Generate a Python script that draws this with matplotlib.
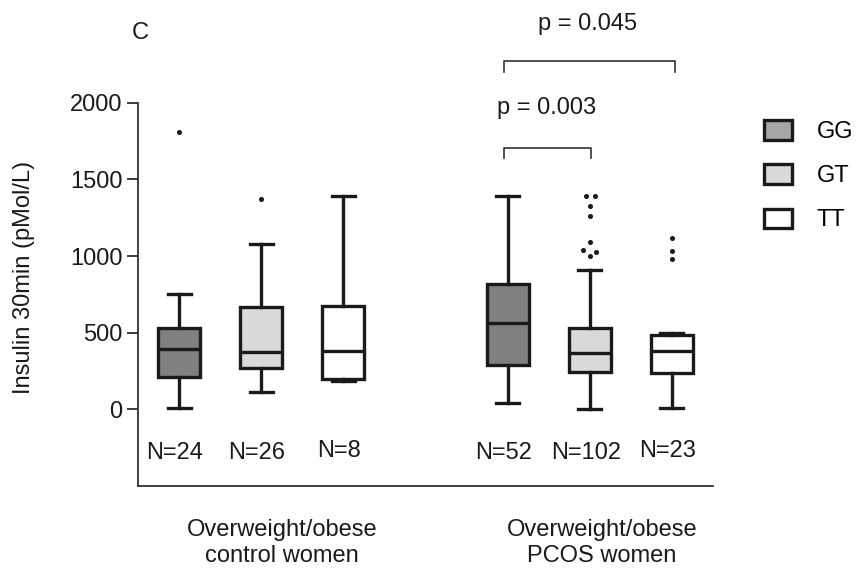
import numpy as np
import matplotlib
matplotlib.use('Agg')
import matplotlib.pyplot as plt
from matplotlib.patches import Patch

plt.rcParams['font.family'] = ['Liberation Sans', 'DejaVu Sans']

# box summaries (pMol/L)
genotypes = ['GG', 'GT', 'TT']
positions = [1, 2, 3, 5, 6, 7]
whislo = [11, 113, 182, 44, 4, 11]
q1 = [210, 271, 200, 288, 243, 239]
med = [395, 373, 380, 564, 369, 380]
q3 = [532, 666, 677, 820, 532, 482]
whishi = [755, 1078, 1389, 1389, 911, 500]
fliers = [[1808], [1372], [],
          [], [1389, 1389, 1328, 1259, 1089, 1042, 1027, 1003],
          [1118, 1031, 983]]
n_labels = ['N=24', 'N=26', 'N=8', 'N=52', 'N=102', 'N=23']
groups = ['Overweight/obese\ncontrol women', 'Overweight/obese\nPCOS women']
box_colors = ['#808080', '#d9d9d9', '#ffffff']
legend_colors = ['#a6a6a6', '#d9d9d9', '#ffffff']

FS = 17
fig = plt.figure(figsize=(8.58, 5.73), dpi=100)
ax = fig.add_axes([0.1608, 0.1518, 0.6702, 0.669])

stats = []
for i in range(len(positions)):
    stats.append({'whislo': whislo[i], 'q1': q1[i], 'med': med[i], 'q3': q3[i],
                  'whishi': whishi[i], 'fliers': fliers[i]})

bp = ax.bxp(stats, positions=positions, widths=0.51, patch_artist=True,
            showfliers=False,
            boxprops=dict(linewidth=2.4, edgecolor='#1a1a1a'),
            medianprops=dict(linewidth=2.4, color='#1a1a1a'),
            whiskerprops=dict(linewidth=2.4, color='#1a1a1a'),
            capprops=dict(linewidth=2.4, color='#1a1a1a'),
            capwidths=0.28)
for i, b in enumerate(bp['boxes']):
    b.set_facecolor(box_colors[i % 3])

# outlier dots, GT PCOS has a few side by side
flier_x = [[1], [2], [], [], [5.96, 6.06, 6.0, 6.0, 6.0, 5.92, 6.07, 6.0], [7, 7, 7]]
for i in range(len(positions)):
    if fliers[i]:
        ax.plot(flier_x[i], fliers[i], 'o', color='#1a1a1a', markersize=2.6,
                linestyle='none')

for p, lab in zip(positions, n_labels):
    yy = -270 if lab in ('N=8', 'N=23') else -285
    ax.text(p - 0.05, yy, lab, ha='center', va='center', fontsize=FS, color='#1a1a1a')

ax.text(2.25, -872, groups[0], ha='center', va='center', fontsize=FS,
        color='#1a1a1a', linespacing=1.2, clip_on=False)
ax.text(6.15, -872, groups[1], ha='center', va='center', fontsize=FS,
        color='#1a1a1a', linespacing=1.2, clip_on=False)

# significance brackets
ax.plot([4.95, 4.95, 6.01, 6.01], [1638, 1707, 1707, 1638], color='#333333',
        linewidth=1.2, clip_on=False)
ax.text(5.48, 1965, 'p = 0.003', ha='center', va='center', fontsize=FS, color='#1a1a1a')
ax.plot([4.95, 4.95, 7.04, 7.04], [2201, 2273, 2273, 2201], color='#333333',
        linewidth=1.2, clip_on=False)
ax.text(5.97, 2516, 'p = 0.045', ha='center', va='center', fontsize=FS,
        color='#1a1a1a', clip_on=False)

ax.set_xlim(0.5, 7.5)
ax.set_ylim(-500, 2000)
ax.set_yticks([0, 500, 1000, 1500, 2000])
ax.set_xticks([])
ax.tick_params(axis='y', direction='out', length=8, width=1.2, pad=3,
               labelsize=FS, colors='#1a1a1a')
for s in ['top', 'right']:
    ax.spines[s].set_visible(False)
for s in ['left', 'bottom']:
    ax.spines[s].set_linewidth(1.3)
    ax.spines[s].set_color('#333333')

fig.text(24 / 858, 1 - 277 / 573, 'Insulin 30min (pMol/L)', rotation=90,
         ha='center', va='center', fontsize=FS, color='#1a1a1a')
fig.text(140 / 858, 1 - 33 / 573, 'C', ha='center', va='center', fontsize=FS,
         color='#1a1a1a')

handles = [Patch(facecolor=c, edgecolor='#1a1a1a', linewidth=2.4) for c in legend_colors]
fig.legend(handles, genotypes, loc='upper left', bbox_to_anchor=(0.89, 0.79),
           frameon=False, fontsize=FS, handlelength=1.2, handleheight=0.89,
           labelspacing=0.9, handletextpad=1.05, borderaxespad=0, borderpad=0)

fig.savefig('out.png', dpi=100)
